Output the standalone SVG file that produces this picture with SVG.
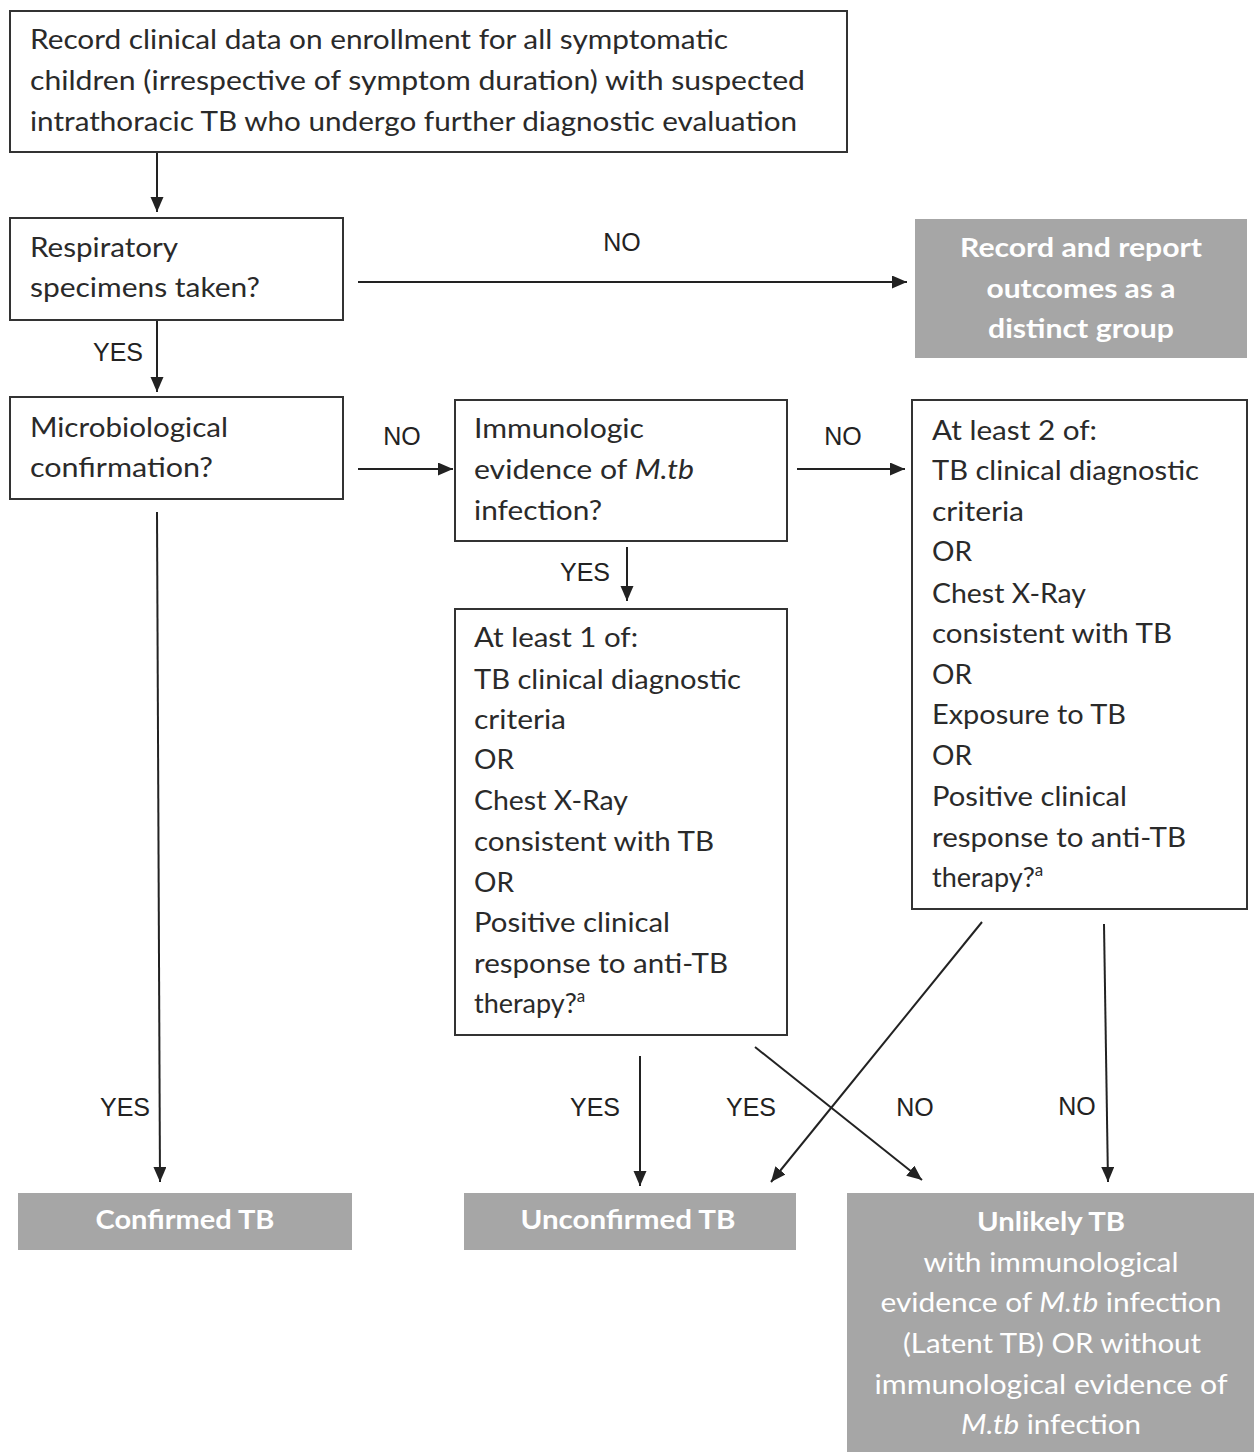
<svg xmlns="http://www.w3.org/2000/svg" width="1254" height="1452" viewBox="0 0 1254 1452">
<defs>
<marker id="arr" markerUnits="userSpaceOnUse" markerWidth="16" markerHeight="14" refX="15" refY="6.5" orient="auto">
<path d="M0,0 L15,6.5 L0,13 z" fill="#222"/>
</marker>
<style>
.box{fill:#fff;stroke:#333;stroke-width:2}
.gbox{fill:#a6a6a6;stroke:none}
.t{font-family:Lato,"Open Sans","Liberation Sans",sans-serif;font-size:27px;fill:#2a2a2a}
.w{font-family:Lato,"Open Sans","Liberation Sans",sans-serif;font-size:27px;fill:#fff;text-anchor:middle}
.b{font-weight:bold}
.lbl{font-family:"Liberation Sans",Arial,sans-serif;font-size:25px;fill:#222}
.c{stroke:#222;stroke-width:2;fill:none;marker-end:url(#arr)}
.sup{font-size:17px}
</style>
</defs>
<rect width="1254" height="1452" fill="#fff"/>

<g id="connectors">
<line class="c" x1="157" y1="152" x2="157" y2="212"/>
<line class="c" x1="358" y1="282" x2="907" y2="282"/>
<line class="c" x1="157" y1="320" x2="157" y2="392"/>
<line class="c" x1="358" y1="469" x2="453" y2="469"/>
<line class="c" x1="797" y1="469" x2="905" y2="469"/>
<line class="c" x1="627" y1="547" x2="627" y2="601"/>
<line class="c" x1="157" y1="512" x2="160" y2="1182"/>
<line class="c" x1="640" y1="1056" x2="640" y2="1186"/>
<line class="c" x1="755" y1="1047" x2="922" y2="1180"/>
<line class="c" x1="982" y1="922" x2="771" y2="1182"/>
<line class="c" x1="1104" y1="924" x2="1108" y2="1182"/>
<text class="lbl" x="622" y="251" text-anchor="middle">NO</text>
<text class="lbl" x="118" y="361" text-anchor="middle">YES</text>
<text class="lbl" x="402" y="445" text-anchor="middle">NO</text>
<text class="lbl" x="843" y="445" text-anchor="middle">NO</text>
<text class="lbl" x="585" y="581" text-anchor="middle">YES</text>
<text class="lbl" x="125" y="1116" text-anchor="middle">YES</text>
<text class="lbl" x="595" y="1116" text-anchor="middle">YES</text>
<text class="lbl" x="751" y="1116" text-anchor="middle">YES</text>
<text class="lbl" x="915" y="1116" text-anchor="middle">NO</text>
<text class="lbl" x="1077" y="1115" text-anchor="middle">NO</text>
</g>

<g id="n-start">
<rect class="box" x="10" y="11" width="837" height="141"/>
<text class="t" x="30" y="49" textLength="698" lengthAdjust="spacingAndGlyphs">Record clinical data on enrollment for all symptomatic</text>
<text class="t" x="30" y="90" textLength="775" lengthAdjust="spacingAndGlyphs">children (irrespective of symptom duration) with suspected</text>
<text class="t" x="30" y="131" textLength="767" lengthAdjust="spacingAndGlyphs">intrathoracic TB who undergo further diagnostic evaluation</text>
</g>

<g id="n-resp">
<rect class="box" x="10" y="218" width="333" height="102"/>
<text class="t" x="30" y="257" textLength="148" lengthAdjust="spacingAndGlyphs">Respiratory</text>
<text class="t" x="30" y="297" textLength="230" lengthAdjust="spacingAndGlyphs">specimens taken?</text>
</g>

<g id="n-distinct">
<rect class="gbox" x="915" y="219" width="332" height="139"/>
<text class="w b" x="1081" y="257" textLength="242" lengthAdjust="spacingAndGlyphs">Record and report</text>
<text class="w b" x="1081" y="298" textLength="189" lengthAdjust="spacingAndGlyphs">outcomes as a</text>
<text class="w b" x="1081" y="338" textLength="186" lengthAdjust="spacingAndGlyphs">distinct group</text>
</g>

<g id="n-micro">
<rect class="box" x="10" y="397" width="333" height="102"/>
<text class="t" x="30" y="437" textLength="198" lengthAdjust="spacingAndGlyphs">Microbiological</text>
<text class="t" x="30" y="477" textLength="183" lengthAdjust="spacingAndGlyphs">confirmation?</text>
</g>

<g id="n-immuno">
<rect class="box" x="455" y="400" width="332" height="141"/>
<text class="t" x="474" y="438" textLength="170" lengthAdjust="spacingAndGlyphs">Immunologic</text>
<text class="t" x="474" y="479" textLength="220" lengthAdjust="spacingAndGlyphs">evidence of <tspan font-style="italic">M.tb</tspan></text>
<text class="t" x="474" y="520" textLength="128" lengthAdjust="spacingAndGlyphs">infection?</text>
</g>

<g id="n-atleast2">
<rect class="box" x="912" y="400" width="335" height="509"/>
<text class="t" x="932" y="440" textLength="165" lengthAdjust="spacingAndGlyphs">At least 2 of:</text>
<text class="t" x="932" y="480" textLength="267" lengthAdjust="spacingAndGlyphs">TB clinical diagnostic</text>
<text class="t" x="932" y="521" textLength="92" lengthAdjust="spacingAndGlyphs">criteria</text>
<text class="t" x="932" y="561" textLength="40" lengthAdjust="spacingAndGlyphs">OR</text>
<text class="t" x="932" y="603" textLength="154" lengthAdjust="spacingAndGlyphs">Chest X-Ray</text>
<text class="t" x="932" y="643" textLength="240" lengthAdjust="spacingAndGlyphs">consistent with TB</text>
<text class="t" x="932" y="684" textLength="40" lengthAdjust="spacingAndGlyphs">OR</text>
<text class="t" x="932" y="724" textLength="194" lengthAdjust="spacingAndGlyphs">Exposure to TB</text>
<text class="t" x="932" y="765" textLength="40" lengthAdjust="spacingAndGlyphs">OR</text>
<text class="t" x="932" y="806" textLength="195" lengthAdjust="spacingAndGlyphs">Positive clinical</text>
<text class="t" x="932" y="847" textLength="254" lengthAdjust="spacingAndGlyphs">response to anti-TB</text>
<text class="t" x="932" y="887">therapy?<tspan class="sup" dy="-11">a</tspan></text>
</g>

<g id="n-atleast1">
<rect class="box" x="455" y="609" width="332" height="426"/>
<text class="t" x="474" y="647" textLength="164" lengthAdjust="spacingAndGlyphs">At least 1 of:</text>
<text class="t" x="474" y="689" textLength="267" lengthAdjust="spacingAndGlyphs">TB clinical diagnostic</text>
<text class="t" x="474" y="729" textLength="92" lengthAdjust="spacingAndGlyphs">criteria</text>
<text class="t" x="474" y="769" textLength="40" lengthAdjust="spacingAndGlyphs">OR</text>
<text class="t" x="474" y="810" textLength="154" lengthAdjust="spacingAndGlyphs">Chest X-Ray</text>
<text class="t" x="474" y="851" textLength="240" lengthAdjust="spacingAndGlyphs">consistent with TB</text>
<text class="t" x="474" y="892" textLength="40" lengthAdjust="spacingAndGlyphs">OR</text>
<text class="t" x="474" y="932" textLength="196" lengthAdjust="spacingAndGlyphs">Positive clinical</text>
<text class="t" x="474" y="973" textLength="254" lengthAdjust="spacingAndGlyphs">response to anti-TB</text>
<text class="t" x="474" y="1013">therapy?<tspan class="sup" dy="-11">a</tspan></text>
</g>

<g id="n-confirmed">
<rect class="gbox" x="18" y="1193" width="334" height="57"/>
<text class="w b" x="185" y="1229" textLength="179" lengthAdjust="spacingAndGlyphs">Confirmed TB</text>
</g>

<g id="n-unconfirmed">
<rect class="gbox" x="464" y="1193" width="332" height="57"/>
<text class="w b" x="628" y="1229" textLength="215" lengthAdjust="spacingAndGlyphs">Unconfirmed TB</text>
</g>

<g id="n-unlikely">
<rect class="gbox" x="847" y="1193" width="407" height="259"/>
<text class="w b" x="1051" y="1231" textLength="148" lengthAdjust="spacingAndGlyphs">Unlikely TB</text>
<text class="w" x="1051" y="1272" textLength="255" lengthAdjust="spacingAndGlyphs">with immunological</text>
<text class="w" x="1051" y="1312" textLength="341" lengthAdjust="spacingAndGlyphs">evidence of <tspan font-style="italic">M.tb</tspan> infection</text>
<text class="w" x="1052" y="1353" textLength="298" lengthAdjust="spacingAndGlyphs">(Latent TB) OR without</text>
<text class="w" x="1051" y="1394" textLength="353" lengthAdjust="spacingAndGlyphs">immunological evidence of</text>
<text class="w" x="1051" y="1434" textLength="180" lengthAdjust="spacingAndGlyphs"><tspan font-style="italic">M.tb</tspan> infection</text>
</g>
</svg>
